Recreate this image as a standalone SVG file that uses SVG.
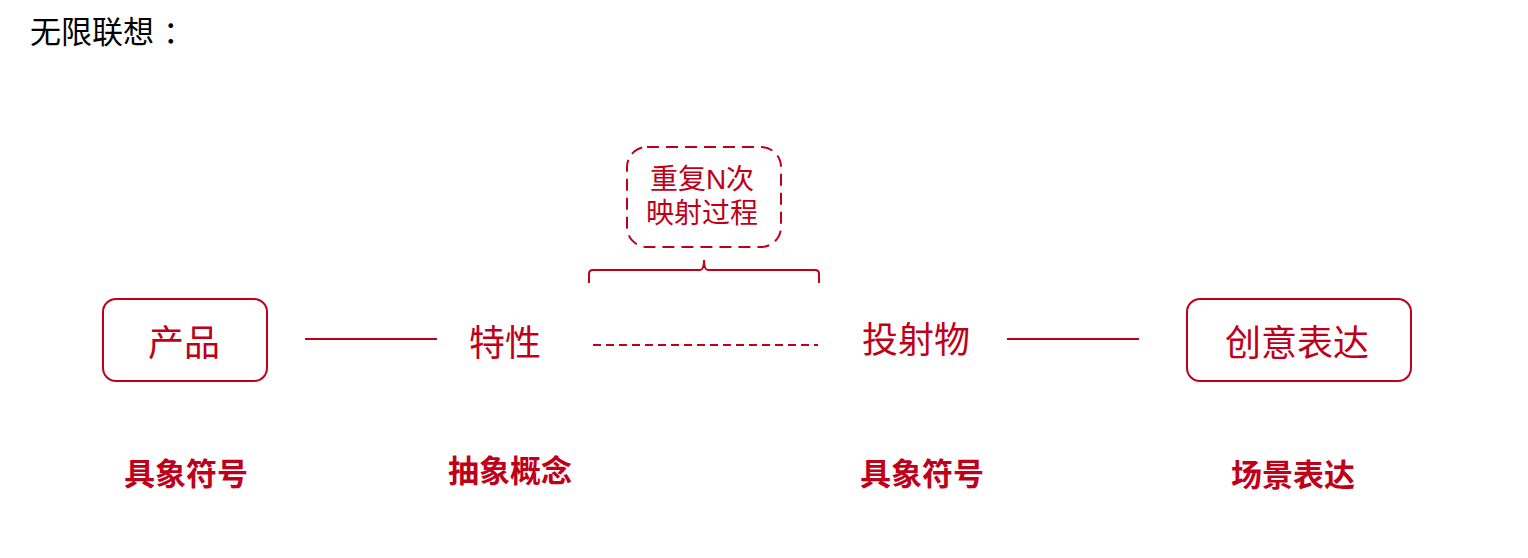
<svg xmlns="http://www.w3.org/2000/svg" width="1528" height="558" viewBox="0 0 1528 558">
<style>
text{font-family:"Noto Sans CJK SC","Liberation Sans",sans-serif;fill:#C00018;text-anchor:middle}
.title{fill:#000;text-anchor:start;font-size:31px}
.node{font-size:36px}
.small{font-size:28px;font-family:"Liberation Sans","Noto Sans CJK SC",sans-serif}
.lbl{font-size:31px;font-weight:bold}
.box{fill:none;stroke:#C00018;stroke-width:2}
.ln{stroke:#C00018;stroke-width:2;fill:none}
</style>
<rect width="1528" height="558" fill="#fff"/>
<text class="title" x="30" y="43">无限联想</text>
<text class="title" x="163" y="43">：</text>
<g id="n-product"><rect class="box" x="103" y="299" width="164" height="82" rx="13"/><text class="node" x="184" y="356">产品</text></g>
<g id="n-trait"><text class="node" x="505" y="356">特性</text></g>
<g id="n-projection"><text class="node" x="916" y="353">投射物</text></g>
<g id="n-creative"><rect class="box" x="1187" y="299" width="224" height="82" rx="13"/><text class="node" x="1297" y="356">创意表达</text></g>
<g id="n-repeat"><rect class="box" x="627" y="147" width="154" height="100" rx="20" stroke-dasharray="12 7"/><text class="small" x="702" y="189">重复N次</text><text class="small" x="702" y="223">映射过程</text></g>
<g id="connectors">
<line class="ln" x1="305" y1="339" x2="437" y2="339"/>
<line class="ln" x1="593" y1="345" x2="818" y2="345" stroke-dasharray="8 5"/>
<line class="ln" x1="1007" y1="339" x2="1139" y2="339"/>
<path class="ln" d="M589 283 V274 Q589 270 593 270 H700 Q704 270 704 260 Q704 270 708 270 H815 Q819 270 819 274 V283"/>
</g>
<g id="labels">
<text class="lbl" x="186" y="485">具象符号</text>
<text class="lbl" x="510" y="482">抽象概念</text>
<text class="lbl" x="922" y="485">具象符号</text>
<text class="lbl" x="1293" y="486">场景表达</text>
</g>
</svg>
